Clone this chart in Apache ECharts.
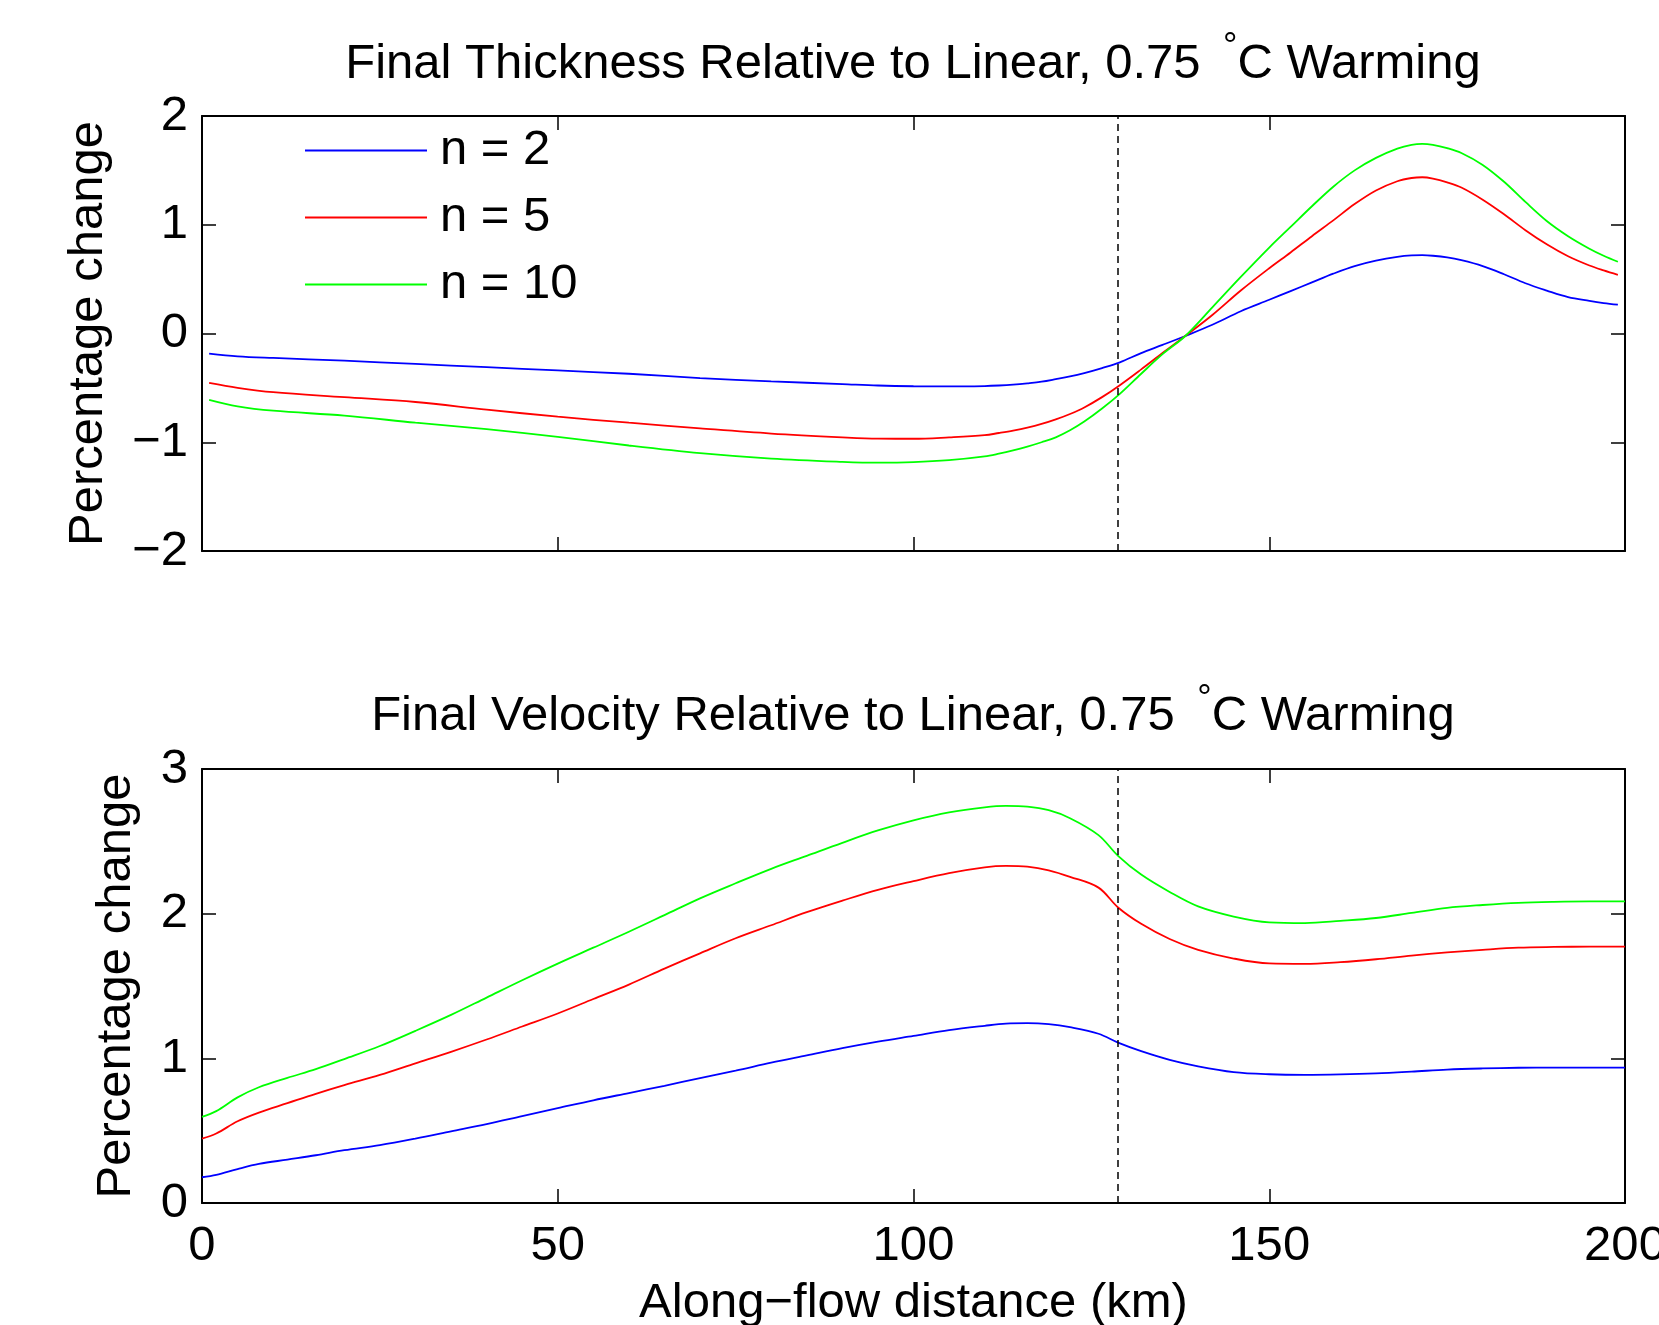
<!DOCTYPE html>
<html><head><meta charset="utf-8">
<script src="https://cdn.jsdelivr.net/npm/echarts@6/dist/echarts.min.js"></script>
<style>html,body{margin:0;padding:0;background:#fff}#c{width:1659px;height:1325px}</style>
</head><body><div id="c"></div>
<script>
// ---- Top panel: final thickness relative to linear (%) ----
const distTop = [1, 5, 10, 20, 30, 40, 50, 60, 70, 80, 90, 95, 100, 105, 110, 112, 114, 116, 118, 120, 122, 124, 126.5, 129, 132, 135, 138.2, 142, 146, 150, 153, 156, 159, 162, 165, 168, 170, 171.5, 173, 175, 177, 180, 183, 186, 189, 192, 195, 197, 199];
const thickN2 = [-0.185, -0.21, -0.225, -0.25, -0.28, -0.31, -0.34, -0.37, -0.41, -0.44, -0.465, -0.478, -0.485, -0.487, -0.483, -0.478, -0.47, -0.458, -0.443, -0.42, -0.395, -0.364, -0.318, -0.265, -0.18, -0.105, -0.023, 0.08, 0.205, 0.31, 0.39, 0.47, 0.55, 0.62, 0.67, 0.705, 0.718, 0.72, 0.715, 0.70, 0.674, 0.62, 0.545, 0.462, 0.395, 0.335, 0.30, 0.28, 0.265];
const thickN5 = [-0.455, -0.50, -0.54, -0.585, -0.63, -0.70, -0.765, -0.82, -0.872, -0.92, -0.955, -0.967, -0.968, -0.955, -0.935, -0.915, -0.893, -0.866, -0.832, -0.79, -0.74, -0.68, -0.585, -0.475, -0.33, -0.18, -0.023, 0.17, 0.395, 0.60, 0.745, 0.895, 1.04, 1.19, 1.315, 1.40, 1.43, 1.437, 1.425, 1.39, 1.342, 1.23, 1.096, 0.95, 0.82, 0.71, 0.625, 0.58, 0.54];
const thickN10 = [-0.61, -0.67, -0.71, -0.755, -0.82, -0.88, -0.95, -1.03, -1.10, -1.15, -1.18, -1.188, -1.183, -1.165, -1.13, -1.105, -1.075, -1.04, -1.0, -0.955, -0.89, -0.81, -0.69, -0.555, -0.37, -0.19, -0.023, 0.24, 0.52, 0.79, 0.98, 1.17, 1.35, 1.50, 1.615, 1.70, 1.735, 1.744, 1.735, 1.705, 1.66, 1.55, 1.395, 1.21, 1.035, 0.895, 0.78, 0.715, 0.66];

// ---- Bottom panel: final velocity relative to linear (%) ----
const distBot = [0, 2, 5, 8, 12, 16, 20, 25, 30, 35, 40, 45, 50, 55, 60, 65, 70, 75, 80, 85, 90, 95, 100, 105, 110, 113, 116, 119, 122, 126, 128.75, 132, 136, 140, 145, 150, 155, 160, 165, 170, 175, 180, 185, 190, 195, 200];
const velN2 = [0.178, 0.195, 0.235, 0.27, 0.30, 0.33, 0.365, 0.40, 0.445, 0.495, 0.545, 0.60, 0.655, 0.71, 0.76, 0.81, 0.864, 0.915, 0.97, 1.02, 1.07, 1.115, 1.155, 1.195, 1.225, 1.24, 1.243, 1.236, 1.215, 1.17, 1.109, 1.05, 0.99, 0.945, 0.905, 0.89, 0.886, 0.889, 0.896, 0.908, 0.922, 0.93, 0.935, 0.936, 0.936, 0.936];
const velN5 = [0.445, 0.48, 0.565, 0.625, 0.69, 0.755, 0.815, 0.885, 0.965, 1.045, 1.13, 1.22, 1.31, 1.41, 1.51, 1.62, 1.726, 1.83, 1.92, 2.01, 2.09, 2.165, 2.225, 2.28, 2.32, 2.33, 2.325, 2.30, 2.255, 2.18, 2.043, 1.93, 1.825, 1.75, 1.69, 1.656, 1.653, 1.665, 1.685, 1.71, 1.732, 1.75, 1.765, 1.77, 1.772, 1.772];
const velN10 = [0.595, 0.635, 0.73, 0.80, 0.865, 0.925, 0.995, 1.085, 1.19, 1.30, 1.42, 1.54, 1.655, 1.765, 1.875, 1.99, 2.106, 2.21, 2.31, 2.40, 2.49, 2.575, 2.645, 2.70, 2.735, 2.745, 2.74, 2.715, 2.66, 2.543, 2.40, 2.27, 2.15, 2.05, 1.98, 1.94, 1.935, 1.95, 1.97, 2.005, 2.04, 2.06, 2.075, 2.082, 2.085, 2.085];

// ---- Labels / ticks ----
const seriesNames = ['n = 2', 'n = 5', 'n = 10'];
const seriesColors = ['#0000ff', '#ff0000', '#00ff00'];
const groundingLine = 128.75;
const xRange = [0, 200], xStep = 50;
const yRangeTop = [-2, 2], yRangeBot = [0, 3], yStep = 1;
const titleTop = 'Final Thickness Relative to Linear, 0.75 {d|°}C Warming';
const titleBot = 'Final Velocity Relative to Linear, 0.75 {d|°}C Warming';
const yName = 'Percentage change';
const xName = 'Along\u2212flow distance (km)';

const FONT = '"Liberation Sans", Arial, Helvetica, sans-serif';
const FS = 49;
const chart = echarts.init(document.getElementById('c'), null, {renderer: 'canvas'});

function fmt(v) { return String(v).replace('-', '\u2212'); }
function xAx(grid, pos, labels) {
  return {
    type: 'value', gridIndex: grid, position: pos, min: xRange[0], max: xRange[1], interval: xStep,
    axisLine: {show: true, onZero: false, lineStyle: {color: '#000', width: 2}},
    axisTick: {show: true, inside: true, length: 14, lineStyle: {color: '#000', width: 1.5}},
    axisLabel: {show: labels, color: '#000', fontSize: FS, fontFamily: FONT, margin: 19, hideOverlap: false},
    splitLine: {show: false}
  };
}
function yAx(grid, pos, range, labels) {
  return {
    type: 'value', gridIndex: grid, position: pos, min: range[0], max: range[1], interval: yStep,
    axisLine: {show: true, onZero: false, lineStyle: {color: '#000', width: 2}},
    axisTick: {show: true, inside: true, length: 14, lineStyle: {color: '#000', width: 1.5}},
    axisLabel: {show: labels, color: '#000', fontSize: FS, fontFamily: FONT, margin: 14, formatter: fmt},
    splitLine: {show: false}
  };
}
const xs = [xAx(0, 'bottom', false), xAx(0, 'top', false), xAx(1, 'bottom', true), xAx(1, 'top', false)];
Object.assign(xs[2], {name: xName, nameLocation: 'middle', nameGap: 76,
  nameTextStyle: {color: '#000', fontSize: FS, fontFamily: FONT}});
const ys = [yAx(0, 'left', yRangeTop, true), yAx(0, 'right', yRangeTop, false), yAx(1, 'left', yRangeBot, true), yAx(1, 'right', yRangeBot, false)];
Object.assign(ys[0], {name: yName, nameLocation: 'middle', nameGap: 89, nameRotate: 90,
  nameTextStyle: {color: '#000', fontSize: FS, fontFamily: FONT}});
Object.assign(ys[2], {name: yName, nameLocation: 'middle', nameGap: 61, nameRotate: 90,
  nameTextStyle: {color: '#000', fontSize: FS, fontFamily: FONT}});

function lineSeries(name, color, xsArr, ysArr, axIdx, withMark) {
  const s = {
    type: 'line', name: name, xAxisIndex: axIdx, yAxisIndex: axIdx,
    data: xsArr.map((d, i) => [d, ysArr[i]]),
    showSymbol: false, symbol: 'none', smooth: 0.35,
    lineStyle: {color: color, width: 1.8}, itemStyle: {color: color},
    animation: false, silent: true
  };
  if (withMark) {
    s.markLine = {silent: true, symbol: 'none', animation: false, label: {show: false},
      lineStyle: {color: '#000', type: [7, 5], width: 1.5},
      data: [{xAxis: groundingLine}]};
  }
  return s;
}
const topVals = [thickN2, thickN5, thickN10];
const botVals = [velN2, velN5, velN10];
const series = [];
seriesNames.forEach((n, i) => series.push(lineSeries(n, seriesColors[i], distTop, topVals[i], 0, i === 0)));
seriesNames.forEach((n, i) => series.push(lineSeries(n, seriesColors[i], distBot, botVals[i], 2, i === 0)));

const titleStyle = {color: '#000', fontSize: FS, fontWeight: 'normal', fontFamily: FONT, lineHeight: 69,
  rich: {d: {fontSize: 36, lineHeight: 36, verticalAlign: 'top', fontFamily: FONT, color: '#000', padding: [0, 0, 0, 9]}}};

chart.setOption({
  backgroundColor: '#fff',
  animation: false,
  title: [
    {text: titleTop, left: 913, textAlign: 'center', top: 30, padding: 0, textStyle: titleStyle},
    {text: titleBot, left: 913, textAlign: 'center', top: 682, padding: 0, textStyle: titleStyle}
  ],
  legend: {
    data: seriesNames, orient: 'vertical', left: 305, top: 126, padding: 0,
    itemWidth: 122, itemHeight: 2, itemGap: 18, icon: 'rect',
    textStyle: {color: '#000', fontSize: FS, fontFamily: FONT, lineHeight: 49, padding: [0, 0, 0, 8]},
    selectedMode: false
  },
  grid: [
    {left: 202, top: 116, width: 1423, height: 435, containLabel: false, outerBoundsMode: 'none'},
    {left: 202, top: 769, width: 1423, height: 434, containLabel: false, outerBoundsMode: 'none'}
  ],
  xAxis: xs,
  yAxis: ys,
  series: series
});
</script></body></html>
